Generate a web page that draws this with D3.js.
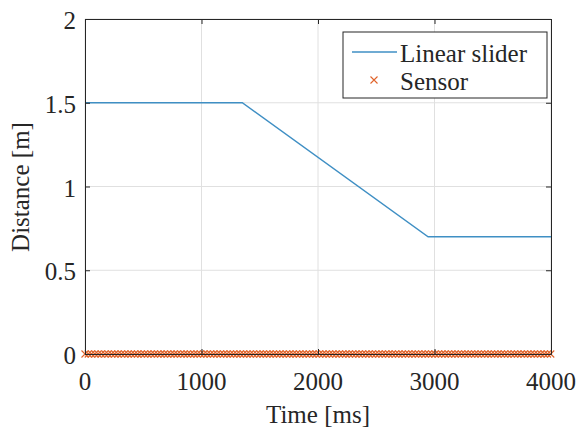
<!DOCTYPE html>
<html>
<head>
<meta charset="utf-8">
<script src="https://cdn.jsdelivr.net/npm/d3@7"></script>
<style>
  body { margin: 0; background: #fff; }
  #vis { position: relative; width: 582px; height: 433px; }
  #vis svg { position: absolute; left: 0; top: 0; }
  .lbl { position: absolute; font-size: 25px; line-height: 20px; color: #262626; white-space: nowrap; }
</style>
</head>
<body>
<div id="vis"></div>
<script>
'use strict'

// slider trajectory (time ms, distance m)
const sliderTime = [0, 1350, 2945, 4000]
const sliderDist = [1.5, 1.5, 0.7, 0.7]

// sensor readings, all at zero
const sensorTime = [0, 28, 55, 85, 112, 140, 171, 198, 228, 255, 283, 312, 340, 369, 397, 425, 452, 482, 510, 538,
  567, 595, 624, 651, 680, 708, 737, 765, 792, 822, 850, 878, 906, 935, 963, 991, 1020, 1048, 1077, 1105,
  1133, 1162, 1190, 1218, 1247, 1275, 1303, 1332, 1360, 1389, 1417, 1445, 1474, 1502, 1530, 1559, 1587, 1616, 1644, 1672,
  1700, 1729, 1757, 1786, 1814, 1842, 1871, 1899, 1927, 1956, 1984, 2012, 2041, 2069, 2098, 2126, 2154, 2183, 2211, 2239,
  2268, 2296, 2324, 2353, 2381, 2410, 2438, 2466, 2495, 2523, 2551, 2580, 2608, 2637, 2665, 2693, 2722, 2750, 2778, 2807,
  2835, 2863, 2892, 2920, 2949, 2977, 3005, 3034, 3062, 3090, 3119, 3147, 3176, 3204, 3232, 3261, 3289, 3317, 3346, 3374,
  3402, 3431, 3459, 3488, 3516, 3544, 3573, 3601, 3629, 3658, 3686, 3714, 3743, 3771, 3800, 3828, 3856, 3885, 3913, 3942, 3970, 3998]
const sensorDist = sensorTime.map(() => 0)

const xTicks = [0, 1000, 2000, 3000, 4000]
const yTicks = [0, 0.5, 1, 1.5, 2]
const yTickLabels = ["0", "0.5", "1", "1.5", "2"]

const FONT = "'Liberation Serif', 'Times New Roman', serif"
const INK = "#262626"
const BLUE = "#3f8fc4", ORANGE = "#e0632a"
const ASC = 16.5   // baseline offset from top of a label box

const width = 582, height = 433
const margin = {left: 85, top: 19, right: 31, bottom: 79}
const pw = width - margin.left - margin.right
const ph = height - margin.top - margin.bottom

const vis = d3.select("#vis")
const svg = vis.append("svg")
  .attr("width", width).attr("height", height)

const x = d3.scaleLinear().domain([0, 4000]).range([margin.left, margin.left + pw])
const y = d3.scaleLinear().domain([0, 2]).range([margin.top + ph, margin.top])

// grid
const grid = svg.append("g")
grid.selectAll(".gx").data(xTicks).join("line")
  .attr("x1", d => x(d)).attr("x2", d => x(d))
  .attr("y1", margin.top).attr("y2", margin.top + ph)
  .attr("stroke", "#e0e0e0").attr("stroke-width", 1)
grid.selectAll(".gy").data(yTicks).join("line")
  .attr("y1", d => y(d)).attr("y2", d => y(d))
  .attr("x1", margin.left).attr("x2", margin.left + pw)
  .attr("stroke", "#e0e0e0").attr("stroke-width", 1)

// series
const line = d3.line().x((d, i) => x(sliderTime[i])).y(d => y(d))
svg.append("path").datum(sliderDist)
  .attr("d", line)
  .attr("fill", "none")
  .attr("stroke", BLUE)
  .attr("stroke-width", 1.4)

const cross = 3.5
svg.append("g").selectAll("path").data(sensorDist).join("path")
  .attr("d", (d, i) => {
    const cx = x(sensorTime[i]), cy = y(d)
    return `M${cx - cross},${cy - cross}L${cx + cross},${cy + cross}M${cx - cross},${cy + cross}L${cx + cross},${cy - cross}`
  })
  .attr("stroke", ORANGE).attr("stroke-width", 1.1).attr("fill", "none")

// axes (MATLAB style inner ticks), labels drawn as html below
svg.append("g").attr("transform", `translate(0,${margin.top + ph})`)
  .call(d3.axisBottom(x).tickValues(xTicks).tickSizeInner(-5).tickSizeOuter(0).tickFormat(""))
svg.append("g").attr("transform", `translate(${margin.left},0)`)
  .call(d3.axisLeft(y).tickValues(yTicks).tickSizeInner(-5).tickSizeOuter(0).tickFormat(""))
svg.append("g").attr("transform", `translate(0,${margin.top})`)
  .call(d3.axisTop(x).tickValues(xTicks).tickSizeInner(-5).tickSizeOuter(0).tickFormat(""))
svg.append("g").attr("transform", `translate(${margin.left + pw},0)`)
  .call(d3.axisRight(y).tickValues(yTicks).tickSizeInner(-5).tickSizeOuter(0).tickFormat(""))

svg.selectAll(".domain").attr("stroke", INK).attr("stroke-width", 1)
svg.selectAll(".tick line").attr("stroke", INK)

function label(txt){
  return vis.append("div").attr("class", "lbl")
    .style("font-family", FONT)
    .text(txt)
}

// tick labels
xTicks.forEach(function(d){
  label(d3.format("d")(d))
    .style("left", x(d) + "px")
    .style("top", (388 - ASC) + "px")
    .style("transform", "translateX(-50%)")
})
yTicks.forEach(function(d, i){
  label(yTickLabels[i])
    .style("right", (width - margin.left + 9) + "px")
    .style("top", (y(d) + 8.5 - ASC) + "px")
})

// axis titles
label("Time [ms]")
  .style("left", x(2000) + "px").style("top", (421 - ASC) + "px")
  .style("transform", "translateX(-50%)")
label("Distance [m]")
  .style("left", "21px").style("top", y(1) + "px")
  .style("transform", "translate(-50%,-50%) rotate(-90deg)")

// legend
svg.append("rect").attr("x", 343).attr("y", 32).attr("width", 204).attr("height", 66)
  .attr("fill", "#fff").attr("stroke", INK).attr("stroke-width", 1)
svg.append("line").attr("x1", 352).attr("x2", 397).attr("y1", 52).attr("y2", 52)
  .attr("stroke", BLUE).attr("stroke-width", 1.4)
svg.append("path").attr("d", "M370.5,76.5L377.5,83.5M370.5,83.5L377.5,76.5")
  .attr("stroke", ORANGE).attr("stroke-width", 1.1)
label("Linear slider").style("left", "400px").style("top", (60 - ASC) + "px")
label("Sensor").style("left", "400px").style("top", (88 - ASC) + "px")
</script>
</body>
</html>
